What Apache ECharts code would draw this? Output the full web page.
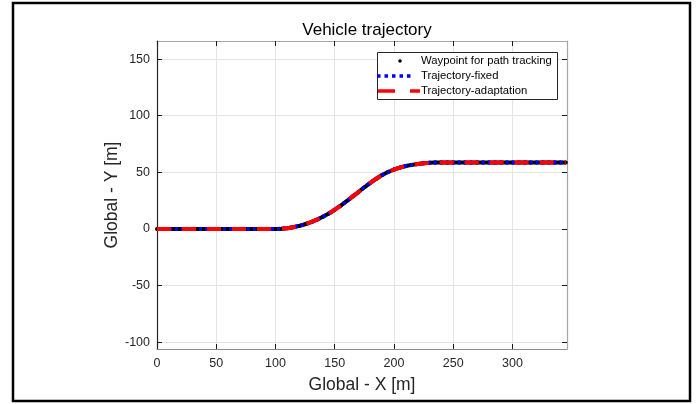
<!DOCTYPE html>
<html>
<head>
<meta charset="utf-8">
<script src="https://cdn.jsdelivr.net/npm/echarts@6/dist/echarts.min.js"></script>
<style>
  html, body { margin: 0; padding: 0; background: #fff; }
  #chart { width: 700px; height: 404px; }
</style>
</head>
<body>
<div id="chart"></div>
<script>
// Waypoints of the lane-change path (global frame, metres)
const wpX = [0, 5, 10, 15, 20, 25, 30, 35, 40, 45, 50, 55, 60, 65, 70, 75, 80, 85, 90, 95, 100,
  105, 110, 115, 120, 125, 130, 135, 140, 145, 150, 155, 160, 165, 170, 175, 180, 185, 190, 195, 200,
  205, 210, 215, 220, 225, 230, 235, 240, 245, 250, 255, 260, 265, 270, 275, 280, 285, 290, 295, 300,
  305, 310, 315, 320, 325, 330, 335, 340, 345];
const wpY = [0, 0, 0, 0, 0, 0, 0, 0, 0, 0, 0, 0, 0, 0, 0, 0, 0, 0, 0, 0, 0,
  0.2, 0.7, 1.6, 2.7, 4.2, 6.0, 8.2, 10.8, 13.6, 17.0, 20.6, 24.5, 28.6, 32.6, 36.8, 40.7, 44.4, 47.6, 50.3, 52.5,
  54.2, 55.6, 56.6, 57.4, 58.0, 58.4, 58.7, 58.8, 58.8, 58.8, 58.8, 58.8, 58.8, 58.8, 58.8, 58.8, 58.8, 58.8, 58.8, 58.8,
  58.8, 58.8, 58.8, 58.8, 58.8, 58.8, 58.8, 58.8, 58.8];

// Both controllers track the waypoints closely: same coordinates
const fixedX = wpX, fixedY = wpY;
const adaptX = wpX, adaptY = wpY;

// Axis ranges and tick values
const xRange = [0, 346];
const yRange = [-106, 166];
const xTicks = [0, 50, 100, 150, 200, 250, 300];
const yTicks = [-100, -50, 0, 50, 100, 150];

const seriesNames = ['Waypoint for path tracking', 'Trajectory-fixed', 'Trajectory-adaptation'];

const zip = (xs, ys) => xs.map((x, i) => [x, ys[i]]);

const FONT = '"Liberation Sans", Arial, sans-serif';
const TXT = '#262626';

const plot = { left: 157, top: 41, width: 410, height: 308 };

function axisX(position, showLabel, lineColor) {
  return {
    type: 'value', position: position, min: xRange[0], max: xRange[1],
    axisLine: { show: true, onZero: false, lineStyle: { color: lineColor, width: 1.2 } },
    axisTick: { show: true, inside: true, length: 5, customValues: xTicks, lineStyle: { color: '#1a1a1a' } },
    axisLabel: { show: showLabel, customValues: xTicks, margin: 8, fontFamily: FONT, fontSize: 12.5, color: TXT },
    splitLine: { show: position === 'bottom', lineStyle: { color: '#e3e3e3', width: 1 } },
    name: showLabel ? 'Global - X [m]' : '', nameLocation: 'middle', nameGap: 27, nameMoveOverlap: false,
    nameTextStyle: { fontFamily: FONT, fontSize: 17.5, color: TXT }
  };
}
function axisY(position, showLabel, lineColor) {
  return {
    type: 'value', position: position, min: yRange[0], max: yRange[1],
    axisLine: { show: true, onZero: false, lineStyle: { color: lineColor, width: 1.2 } },
    axisTick: { show: true, inside: true, length: 5, customValues: yTicks, lineStyle: { color: '#1a1a1a' } },
    axisLabel: { show: showLabel, customValues: yTicks, margin: 7, fontFamily: FONT, fontSize: 12.5, color: TXT },
    splitLine: { show: position === 'left', lineStyle: { color: '#e3e3e3', width: 1 } },
    name: showLabel ? 'Global - Y [m]' : '', nameLocation: 'middle', nameGap: 36, nameRotate: 90,
    nameMoveOverlap: false,
    nameTextStyle: { fontFamily: FONT, fontSize: 17.5, color: TXT }
  };
}

// Legend box drawn as graphic elements
const lg = { x: 377, y: 52, w: 180, h: 47, textX: 421, rows: [61, 76, 91] };
const legendGraphics = [
  { type: 'rect', shape: { x: lg.x + 0.5, y: lg.y + 0.5, width: lg.w, height: lg.h },
    style: { fill: '#fff', stroke: '#262626', lineWidth: 1 }, z: 100 },
  { type: 'circle', shape: { cx: 400, cy: lg.rows[0], r: 1.8 }, style: { fill: '#000' }, z: 101 },
  { type: 'line', shape: { x1: 377, y1: lg.rows[1], x2: 414, y2: lg.rows[1] },
    style: { stroke: '#0000ff', lineWidth: 3.5, lineDash: [3.5, 4], lineCap: 'butt' }, z: 101 },
  { type: 'line', shape: { x1: 378, y1: lg.rows[2], x2: 420, y2: lg.rows[2] },
    style: { stroke: '#ff0000', lineWidth: 3.5, lineDash: [17, 15], lineCap: 'butt' }, z: 101 }
].concat(seriesNames.map((n, i) => ({
  type: 'text', x: lg.textX, y: lg.rows[i], z: 101,
  style: { text: n, fill: '#000', font: '11.3px ' + FONT, textVerticalAlign: 'middle' }
})));

const chart = echarts.init(document.getElementById('chart'), null, { renderer: 'canvas' });
chart.setOption({
  animation: false,
  backgroundColor: '#fff',
  title: {
    text: 'Vehicle trajectory', left: plot.left + plot.width / 2, top: 17, textAlign: 'center',
    textStyle: { fontFamily: FONT, fontSize: 17, fontWeight: 'normal', color: '#000' }
  },
  grid: { left: plot.left, top: plot.top, width: plot.width, height: plot.height, containLabel: false },
  xAxis: [axisX('bottom', true, '#8c8c8c'), axisX('top', false, '#a6a6a6')],
  yAxis: [axisY('left', true, '#262626'), axisY('right', false, '#a6a6a6')],
  series: [
    {
      // dense waypoint markers merge into a dark trace under the trajectories
      name: seriesNames[0], type: 'line', data: zip(wpX, wpY),
      symbol: 'circle', symbolSize: 4, showSymbol: true, itemStyle: { color: '#000' },
      lineStyle: { color: '#000', width: 4 }, z: 2
    },
    {
      name: seriesNames[1], type: 'line', data: zip(fixedX, fixedY), symbol: 'none',
      lineStyle: { color: '#0000ff', width: 4, type: [3, 3], cap: 'butt' }, z: 3
    },
    {
      name: seriesNames[2], type: 'line', data: zip(adaptX, adaptY), symbol: 'none',
      lineStyle: { color: '#ff0000', width: 4, type: [14, 11], cap: 'butt' }, z: 4
    }
  ],
  graphic: [
    { type: 'rect', shape: { x: 13, y: 3, width: 677, height: 398 },
      style: { fill: 'none', stroke: '#000', lineWidth: 2.5 }, z: 100 }
  ].concat(legendGraphics)
});
</script>
</body>
</html>
